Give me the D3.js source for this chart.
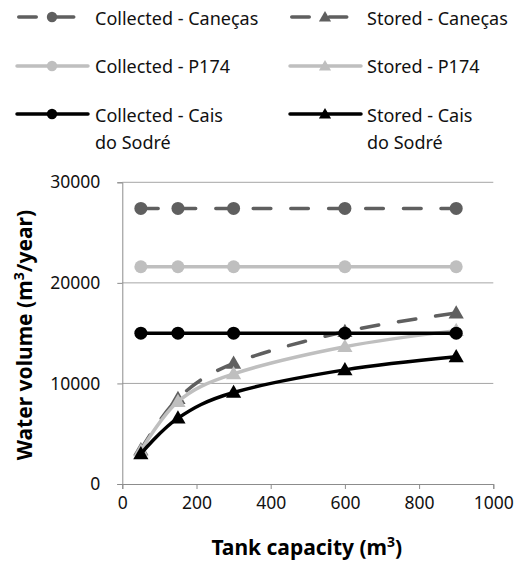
<!DOCTYPE html>
<html><head><meta charset="utf-8">
<script src="https://cdn.jsdelivr.net/npm/d3@7"></script>
<style>body{margin:0;background:#fff}svg{display:block}</style>
</head><body>
<svg id="c" width="518" height="566"></svg>
<script>
const capacities = [50, 150, 300, 600, 900];
const collectedCanecas = [27400, 27400, 27400, 27400, 27400];
const storedCanecas = [3400, 8500, 12000, 15150, 17000];
const collectedP174 = [21600, 21600, 21600, 21600, 21600];
const storedP174 = [3300, 8200, 10950, 13650, 15250];
const collectedCais = [15000, 15000, 15000, 15000, 15000];
const storedCais = [3000, 6550, 9100, 11350, 12650];
const seriesNames = ["Collected - Caneças", "Stored - Caneças", "Collected - P174", "Stored - P174", "Collected - Cais do Sodré", "Stored - Cais do Sodré"];
const xTicks = [0, 200, 400, 600, 800, 1000];
const yTicks = [0, 10000, 20000, 30000];

const series = [
  {name: seriesNames[0], values: collectedCanecas, color: "#5f5f5f", dash: true, marker: "circle"},
  {name: seriesNames[1], values: storedCanecas, color: "#5f5f5f", dash: true, marker: "triangle"},
  {name: seriesNames[2], values: collectedP174, color: "#bfbfbf", dash: false, marker: "circle"},
  {name: seriesNames[3], values: storedP174, color: "#bfbfbf", dash: false, marker: "triangle"},
  {name: seriesNames[4], values: collectedCais, color: "#000000", dash: false, marker: "circle"},
  {name: seriesNames[5], values: storedCais, color: "#000000", dash: false, marker: "triangle"}
];

const svg = d3.select("#c");
const pLeft = 122.3, pRight = 493.3, pTop = 182.3, pBottom = 484;
const x = d3.scaleLinear().domain([0, 1000]).range([pLeft, pRight]);
const y = d3.scaleLinear().domain([0, 30000]).range([pBottom, pTop]);
const font = "'Noto Sans', sans-serif";
const dashArr = "17.5,20";
const lw = 3.5;

// gridlines
svg.append("g").selectAll("line").data(yTicks.filter(d => d > 0)).join("line")
  .attr("x1", pLeft).attr("x2", pRight)
  .attr("y1", d => y(d)).attr("y2", d => y(d))
  .attr("stroke", "#a6a6a6").attr("stroke-width", 1);

// axes
const xAxis = svg.append("g").attr("transform", `translate(0,${pBottom})`)
  .call(d3.axisBottom(x).tickValues(xTicks).tickSize(5).tickPadding(8).tickFormat(d3.format("d")));
const yAxis = svg.append("g").attr("transform", `translate(${pLeft},0)`)
  .call(d3.axisLeft(y).tickValues(yTicks).tickSize(5).tickPadding(17).tickFormat(d3.format("d")));
[xAxis, yAxis].forEach(a => {
  a.select(".domain").attr("stroke", "#8c8c8c").attr("stroke-width", 1);
  a.selectAll(".tick line").attr("stroke", "#8c8c8c");
  a.selectAll("text").attr("font-family", font).attr("font-size", 17.5).attr("fill", "#111");
});

const symTri = d3.symbol().type(d3.symbolTriangle);
function drawMarker(g, type, cx, cy, color, scale) {
  if (type === "circle") {
    g.append("circle").attr("cx", cx).attr("cy", cy).attr("r", 6.5 * scale).attr("fill", color);
  } else {
    g.append("path").attr("d", symTri.size(100 * scale * scale)())
      .attr("transform", `translate(${cx},${cy + 1})`).attr("fill", color);
  }
}

const line = d3.line().x((d, i) => x(capacities[i])).y(d => y(d)).curve(d3.curveCardinal.tension(0));

series.forEach(s => {
  const g = svg.append("g");
  g.append("path").attr("d", line(s.values)).attr("fill", "none")
    .attr("stroke", s.color).attr("stroke-width", lw)
    .attr("stroke-linecap", "round").attr("stroke-linejoin", "round")
    .attr("stroke-dasharray", s.dash ? dashArr : null);
  s.values.forEach((v, i) => drawMarker(g, s.marker, x(capacities[i]), y(v), s.color, 1));
});

// legend
const legendPos = [
  {lx: 17, mx: 52, tx: 95, ly: 17, tb: 25},
  {lx: 290, mx: 325, tx: 367, ly: 17, tb: 25},
  {lx: 17, mx: 52, tx: 95, ly: 66, tb: 73},
  {lx: 290, mx: 325, tx: 367, ly: 66, tb: 73},
  {lx: 17, mx: 52, tx: 95, ly: 114, tb: 121.5},
  {lx: 290, mx: 325, tx: 367, ly: 114, tb: 121.5}
];
const legendLines = [["Collected - Caneças"], ["Stored - Caneças"], ["Collected - P174"], ["Stored - P174"], ["Collected - Cais", "do Sodré"], ["Stored - Cais", "do Sodré"]];
series.forEach((s, i) => {
  const p = legendPos[i];
  const g = svg.append("g");
  g.append("line").attr("x1", p.lx + (s.dash ? 1.75 : 0)).attr("x2", p.lx + 71).attr("y1", p.ly).attr("y2", p.ly)
    .attr("stroke", s.color).attr("stroke-width", lw).attr("stroke-linecap", "round")
    .attr("stroke-dasharray", s.dash ? dashArr : null);
  drawMarker(g, s.marker, p.mx, p.ly, s.color, 0.8);
  const t = g.append("text").attr("x", p.tx).attr("y", p.tb)
    .attr("font-family", font).attr("font-size", 18).attr("fill", "#111");
  legendLines[i].forEach((ln, j) => {
    t.append("tspan").attr("x", p.tx).attr("dy", j === 0 ? 0 : 27).text(ln);
  });
});

// axis titles with superscript
function titleText(sel, before, after) {
  sel.append("tspan").text(before);
  sel.append("tspan").attr("font-size", 14).attr("dy", -8).text("3");
  sel.append("tspan").attr("dy", 8).text(after);
}
const xt = svg.append("text").attr("x", (pLeft + pRight) / 2 - 1).attr("y", 555)
  .attr("text-anchor", "middle").attr("font-family", font).attr("font-weight", "bold")
  .attr("font-size", 21).attr("fill", "#000");
titleText(xt, "Tank capacity (m", ")");
const yt = svg.append("text").attr("transform", `translate(32,${(pTop + pBottom) / 2 + 2}) rotate(-90)`)
  .attr("text-anchor", "middle").attr("font-family", font).attr("font-weight", "bold")
  .attr("font-size", 21).attr("fill", "#000");
titleText(yt, "Water volume (m", "/year)");
</script>
</body></html>
